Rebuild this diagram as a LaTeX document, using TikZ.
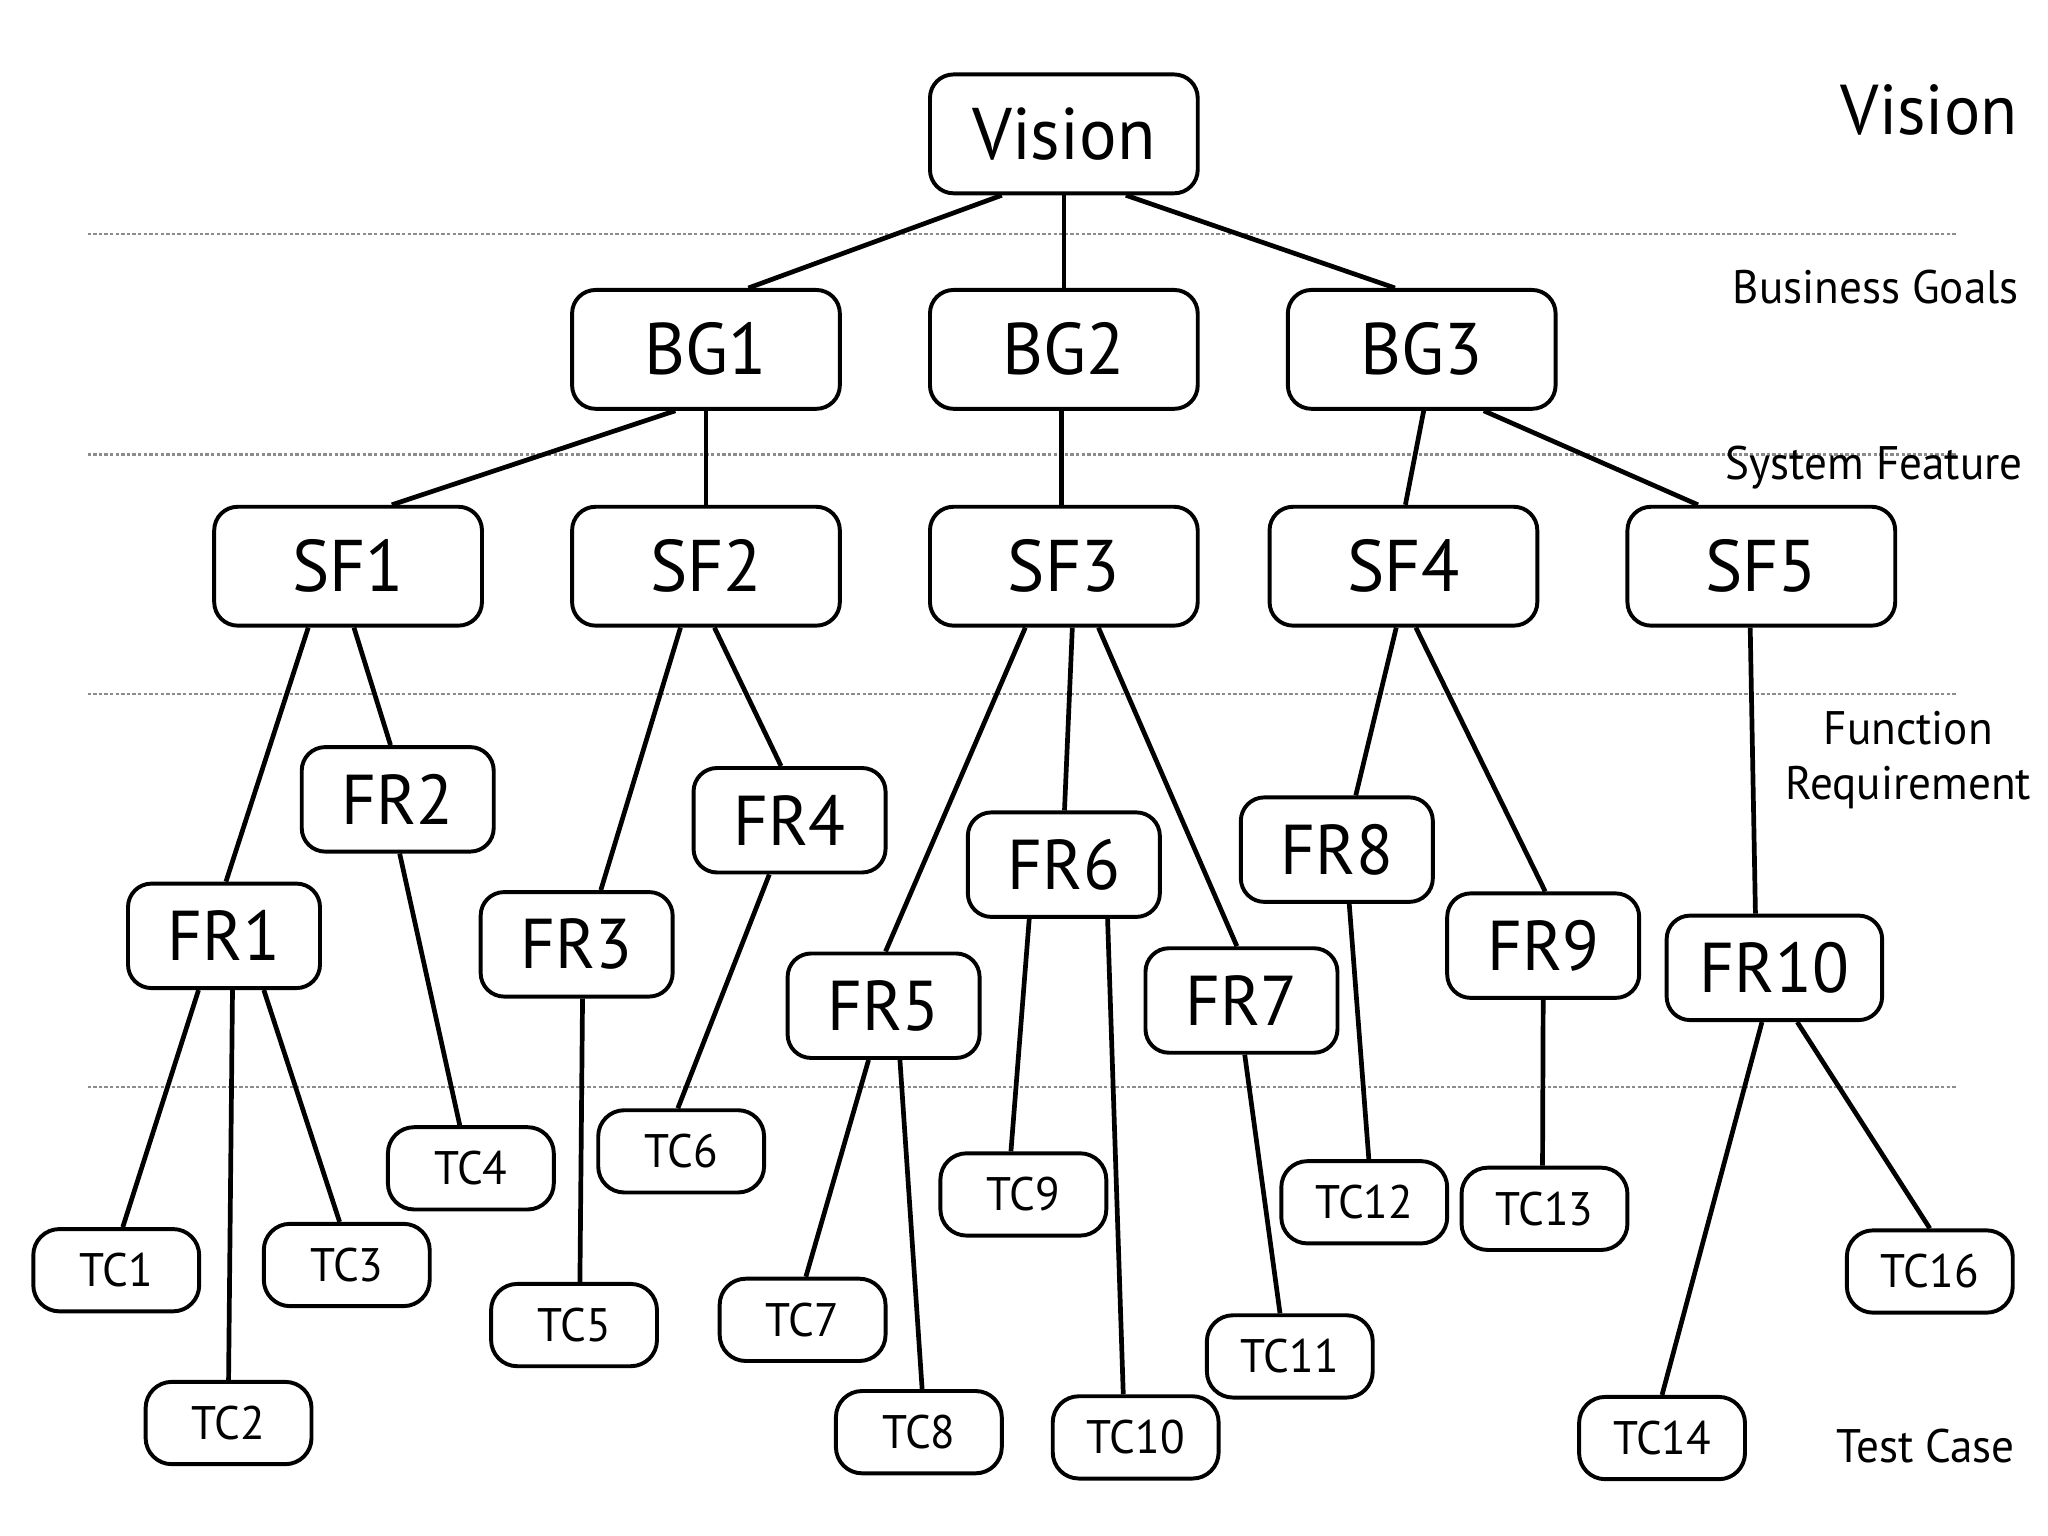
\documentclass[tikz,border=0pt]{standalone}
\usepackage{fontspec}
\setmainfont[FakeStretch=0.96]{PT Sans}
\usetikzlibrary{calc}
\newcommand\cnx[4]{\draw[conn] ($(#1.south)+(#2,0)$) -- ($(#3.north)+(#4,0)$);}
\begin{document}
\begin{tikzpicture}[x=0.5pt,y=-0.5pt,
  box/.style={draw, line width=1.5pt, fill=white, inner sep=0pt},
  big/.style={box, rounded corners=9pt, minimum width=102.5pt, minimum height=45.5pt, font=\fontsize{28}{30}\selectfont},
  fr/.style={box, rounded corners=9pt, minimum width=73.5pt, minimum height=40pt, font=\fontsize{27}{29}\selectfont},
  tc/.style={box, rounded corners=10pt, minimum width=63.5pt, minimum height=31.5pt, font=\fontsize{18}{20}\selectfont},
  conn/.style={line width=1.8pt},
  lvl/.style={draw=black!45, line width=0.8pt, dash pattern=on 1.3pt off 0.85pt},
  lab/.style={font=\fontsize{18}{20}\selectfont, inner sep=0pt}]
\fill[white] (0,0) rectangle (1568,1176);
\useasboundingbox (0,0) rectangle (1568,1176);
% level separators
\foreach \yy in {179,348,531,832} \draw[lvl] (67,\yy) -- (1498,\yy);
% level labels
\node[lab, anchor=base east, font=\fontsize{27}{29}\selectfont] (lVision) at (1545,103) {Vision};
\node[lab, anchor=base east] (lBG) at (1546,232) {Business Goals};
\node[lab, anchor=base east] (lSF) at (1549,367) {System Feature};
\node[lab, anchor=base] (lFR1) at (1461,570) {Function};
\node[lab, anchor=base] (lFR2) at (1461,612) {Requirement};
\node[lab, anchor=base east] (lTC) at (1543,1120) {Test Case};
% nodes
\node[big] (Vision) at (814.5,102.5) {Vision};
\node[big] (BG1) at (540.5,267.5) {BG1};
\node[big] (BG2) at (814.5,267.5) {BG2};
\node[big] (BG3) at (1088.5,267.5) {BG3};
\node[big] (SF1) at (266.5,433.5) {SF1};
\node[big] (SF2) at (540.5,433.5) {SF2};
\node[big] (SF3) at (814.5,433.5) {SF3};
\node[big] (SF4) at (1074.5,433.5) {SF4};
\node[big] (SF5) at (1348.5,433.5) {SF5};
\node[fr] (FR1) at (171.5,716.5) {FR1};
\node[fr] (FR2) at (304.5,612) {FR2};
\node[fr] (FR3) at (441.5,723) {FR3};
\node[fr] (FR4) at (604.5,628) {FR4};
\node[fr] (FR5) at (676.5,770) {FR5};
\node[fr] (FR6) at (814.5,662) {FR6};
\node[fr] (FR7) at (950.5,766) {FR7};
\node[fr] (FR8) at (1023.5,650.5) {FR8};
\node[fr] (FR9) at (1181.5,724) {FR9};
\node[fr, minimum width=82.5pt] (FR10) at (1358.5,741) {FR10};
\node[tc] (TC1) at (89,972.5) {TC1};
\node[tc] (TC2) at (175,1089.5) {TC2};
\node[tc] (TC3) at (265.5,968.5) {TC3};
\node[tc] (TC4) at (360.5,894.5) {TC4};
\node[tc] (TC5) at (439.5,1014.5) {TC5};
\node[tc] (TC6) at (521.5,881.5) {TC6};
\node[tc] (TC7) at (614.5,1010.5) {TC7};
\node[tc] (TC8) at (703.5,1096.5) {TC8};
\node[tc] (TC9) at (783.5,914.5) {TC9};
\node[tc] (TC10) at (869.5,1100.5) {TC10};
\node[tc] (TC11) at (987.5,1038.5) {TC11};
\node[tc] (TC12) at (1044.5,920.5) {TC12};
\node[tc] (TC13) at (1182.5,925.5) {TC13};
\node[tc] (TC14) at (1272.5,1101) {TC14};
\node[tc] (TC16) at (1477.5,973.5) {TC16};
% connectors
\cnx{Vision}{-47.5}{BG1}{32.5}
\cnx{Vision}{0}{BG2}{0}
\cnx{Vision}{47.5}{BG3}{-20.5}
\cnx{BG1}{-23.5}{SF1}{33.5}
\cnx{BG1}{0}{SF2}{0}
\cnx{BG2}{-2}{SF3}{-2}
\cnx{BG3}{1.5}{SF4}{1.5}
\cnx{BG3}{47.5}{SF5}{-48.5}
\cnx{SF1}{-30.5}{FR1}{1.5}
\cnx{SF1}{4.5}{FR2}{-5.5}
\cnx{SF2}{-19.5}{FR3}{18.5}
\cnx{SF2}{6.5}{FR4}{-6.5}
\cnx{SF3}{-29.5}{FR5}{1.5}
\cnx{SF3}{6.5}{FR6}{0.5}
\cnx{SF3}{26.5}{FR7}{-3.5}
\cnx{SF4}{-5.5}{FR8}{14.5}
\cnx{SF4}{9.5}{FR9}{1.5}
\cnx{SF5}{-8.5}{FR10}{-14.5}
\cnx{FR1}{-19.5}{TC1}{5}
\cnx{FR1}{6.5}{TC2}{0}
\cnx{FR1}{30.5}{TC3}{-5.5}
\cnx{FR2}{1.5}{TC4}{-8.5}
\cnx{FR3}{4.5}{TC5}{4.5}
\cnx{FR4}{-15.5}{TC6}{-2.5}
\cnx{FR5}{-11.5}{TC7}{2.5}
\cnx{FR5}{12.5}{TC8}{2.5}
\cnx{FR6}{-26.5}{TC9}{-9.5}
\cnx{FR6}{33.5}{TC10}{-9.5}
\cnx{FR7}{2.5}{TC11}{-7.5}
\cnx{FR8}{9.5}{TC12}{3.5}
\cnx{FR9}{0}{TC13}{-1.5}
\cnx{FR10}{-9.5}{TC14}{0}
\cnx{FR10}{17.5}{TC16}{0}
\end{tikzpicture}
\end{document}
